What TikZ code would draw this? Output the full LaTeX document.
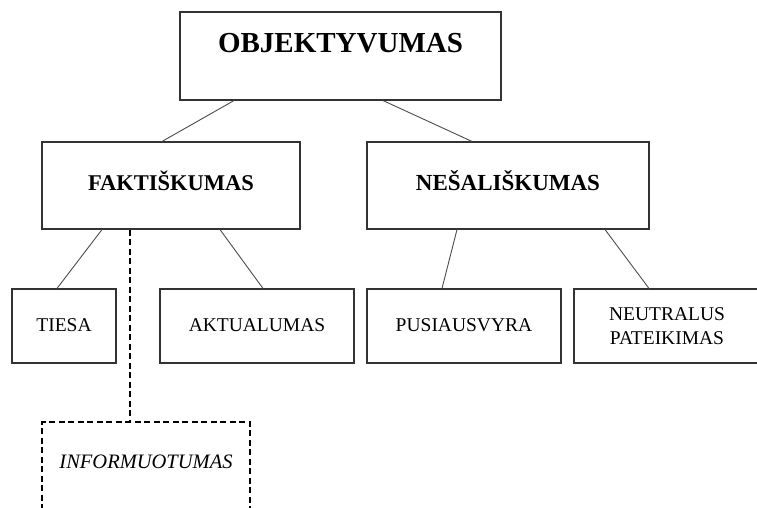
\documentclass[tikz,border=0pt]{standalone}
\usepackage{fontspec}
\setmainfont{Liberation Serif}
\begin{document}
\begin{tikzpicture}[x=1pt,y=-1pt,
    box/.style={draw=black!80,line width=1.1pt,rectangle,inner sep=0pt,minimum height=74pt},
    dashbox/.style={draw=black,line width=1.8pt,dash pattern=on 6pt off 3.5pt,rectangle,inner sep=0pt},
    link/.style={draw=black!70,line width=0.9pt}]
\tikzset{every node/.style={text=black}}
\clip (0,0) rectangle (757,508);
\fill[white] (0,0) rectangle (757,508);
% top level
\node[box,minimum width=321pt,minimum height=88pt,font=\fontsize{29}{34}\selectfont\bfseries,
      text height=20pt,text depth=27pt] (obj) at (340.5,56) {OBJEKTYVUMAS};
% second level
\node[box,minimum width=258pt,minimum height=87pt,font=\fontsize{22.5}{27}\selectfont\bfseries,
      text height=15pt,text depth=5pt] (fakt) at (171,185.5) {FAKTIŠKUMAS};
\node[box,minimum width=282pt,minimum height=87pt,font=\fontsize{23}{27}\selectfont\bfseries,
      text height=15pt,text depth=5pt] (nesal) at (508,185.5) {NEŠALIŠKUMAS};
% third level
\node[box,minimum width=104pt,font=\fontsize{19.5}{24}\selectfont,
      text height=13pt,text depth=2pt] (tiesa) at (64,326) {TIESA};
\node[box,minimum width=194pt,font=\fontsize{19.5}{24}\selectfont,
      text height=13pt,text depth=2pt] (aktual) at (257,326) {AKTUALUMAS};
\node[box,minimum width=194pt,font=\fontsize{19.5}{24}\selectfont,
      text height=13pt,text depth=2pt] (pusi) at (464,326) {PUSIAUSVYRA};
\node[box,minimum width=186pt,font=\fontsize{19.5}{24}\selectfont,align=center,
      text height=37pt,text depth=0pt] (neutral) at (667,326) {NEUTRALUS\\PATEIKIMAS};
\node[dashbox,minimum width=208pt,minimum height=110pt,font=\fontsize{20.5}{24}\selectfont\itshape,
      text height=14pt,text depth=31pt] (inform) at (146,477) {INFORMUOTUMAS};
% connectors
\draw[link] ([xshift=-106.5pt]obj.south) -- ([xshift=-9pt]fakt.north);
\draw[link] ([xshift=42.5pt]obj.south) -- ([xshift=-36pt]nesal.north);
\draw[link] ([xshift=-69pt]fakt.south) -- ([xshift=-7pt]tiesa.north);
\draw[link] ([xshift=49pt]fakt.south) -- ([xshift=6pt]aktual.north);
\draw[dashbox] ([xshift=-41pt]fakt.south) -- ([xshift=-16pt]inform.north);
\draw[link] ([xshift=-51pt]nesal.south) -- ([xshift=-22pt]pusi.north);
\draw[link] ([xshift=97pt]nesal.south) -- ([xshift=-18pt]neutral.north);
\end{tikzpicture}
\end{document}
